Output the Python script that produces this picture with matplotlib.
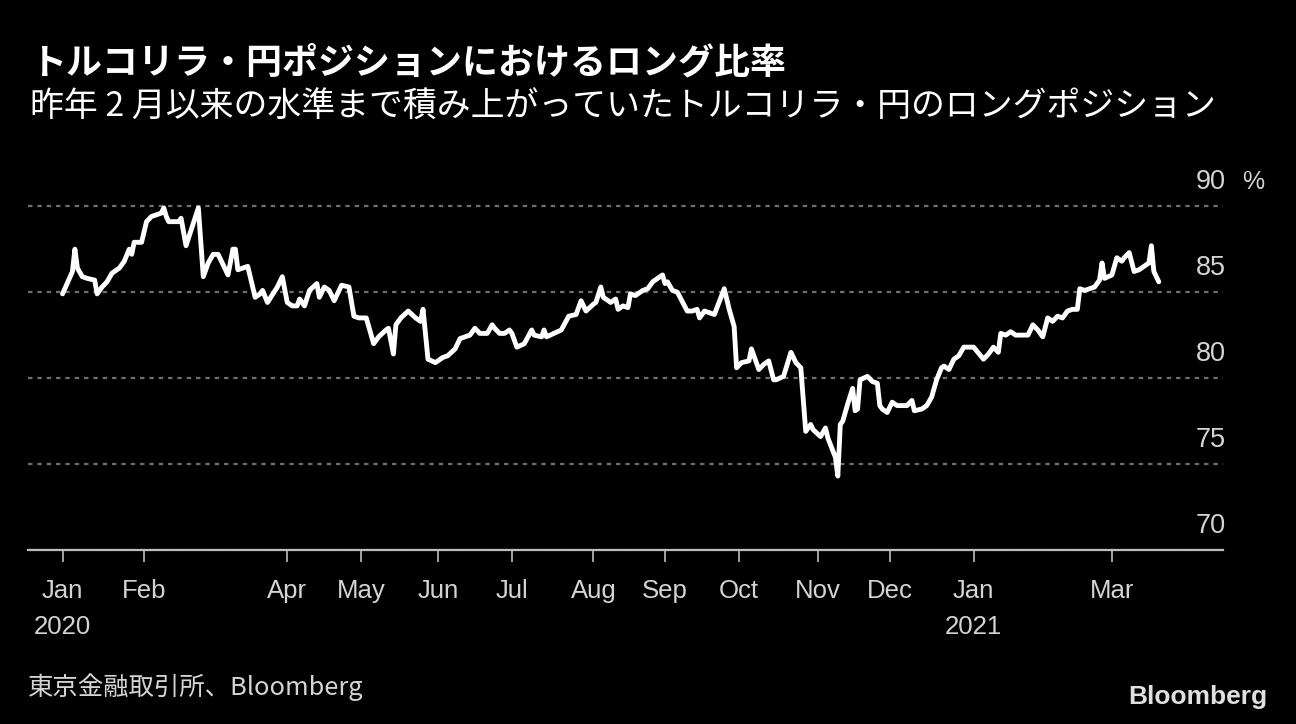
import matplotlib
matplotlib.use("Agg")
import matplotlib.pyplot as plt
import matplotlib.transforms as mtransforms
import pandas as pd

# long ratio of TRY/JPY positions, %
DATES = [
    "2020-01-01", "2020-01-05", "2020-01-06", "2020-01-07", "2020-01-09", "2020-01-11",
    "2020-01-14", "2020-01-15", "2020-01-17", "2020-01-19", "2020-01-21", "2020-01-24",
    "2020-01-26", "2020-01-28", "2020-01-29", "2020-01-30", "2020-02-02", "2020-02-04",
    "2020-02-06", "2020-02-08", "2020-02-10", "2020-02-11", "2020-02-12", "2020-02-13",
    "2020-02-17", "2020-02-18", "2020-02-20", "2020-02-25", "2020-02-27", "2020-02-29",
    "2020-03-02", "2020-03-04", "2020-03-08", "2020-03-10", "2020-03-11", "2020-03-12",
    "2020-03-16", "2020-03-19", "2020-03-21", "2020-03-22", "2020-03-24", "2020-03-28",
    "2020-03-30", "2020-04-01", "2020-04-03", "2020-04-05", "2020-04-06", "2020-04-08",
    "2020-04-10", "2020-04-13", "2020-04-14", "2020-04-16", "2020-04-18", "2020-04-20",
    "2020-04-23", "2020-04-26", "2020-04-28", "2020-04-30", "2020-05-03", "2020-05-06",
    "2020-05-08", "2020-05-11", "2020-05-12", "2020-05-14", "2020-05-15", "2020-05-17",
    "2020-05-20", "2020-05-23", "2020-05-25", "2020-05-26", "2020-05-28", "2020-05-31",
    "2020-06-03", "2020-06-05", "2020-06-08", "2020-06-10", "2020-06-12", "2020-06-14",
    "2020-06-16", "2020-06-18", "2020-06-21", "2020-06-23", "2020-06-24", "2020-06-26",
    "2020-06-28", "2020-06-30", "2020-07-01", "2020-07-03", "2020-07-06", "2020-07-09",
    "2020-07-10", "2020-07-13", "2020-07-14", "2020-07-15", "2020-07-18", "2020-07-21",
    "2020-07-24", "2020-07-27", "2020-07-29", "2020-07-31", "2020-08-03", "2020-08-04",
    "2020-08-06", "2020-08-07", "2020-08-10", "2020-08-12", "2020-08-13", "2020-08-15",
    "2020-08-17", "2020-08-18", "2020-08-20", "2020-08-23", "2020-08-25", "2020-08-27",
    "2020-08-29", "2020-08-31", "2020-09-01", "2020-09-02", "2020-09-04", "2020-09-06",
    "2020-09-10", "2020-09-12", "2020-09-14", "2020-09-15", "2020-09-17", "2020-09-21",
    "2020-09-25", "2020-09-27", "2020-09-29", "2020-09-30", "2020-10-02", "2020-10-05",
    "2020-10-06", "2020-10-09", "2020-10-11", "2020-10-13", "2020-10-15", "2020-10-16",
    "2020-10-19", "2020-10-22", "2020-10-24", "2020-10-26", "2020-10-28", "2020-10-30",
    "2020-10-31", "2020-11-03", "2020-11-05", "2020-11-06", "2020-11-09", "2020-11-10",
    "2020-11-11", "2020-11-12", "2020-11-14", "2020-11-16", "2020-11-17", "2020-11-18",
    "2020-11-19", "2020-11-22", "2020-11-24", "2020-11-26", "2020-11-27", "2020-11-28",
    "2020-11-30", "2020-12-02", "2020-12-04", "2020-12-06", "2020-12-08", "2020-12-10",
    "2020-12-11", "2020-12-14", "2020-12-16", "2020-12-18", "2020-12-20", "2020-12-22",
    "2020-12-23", "2020-12-25", "2020-12-27", "2020-12-29", "2020-12-31", "2021-01-04",
    "2021-01-08", "2021-01-10", "2021-01-12", "2021-01-14", "2021-01-15", "2021-01-17",
    "2021-01-19", "2021-01-21", "2021-01-26", "2021-01-28", "2021-01-30", "2021-02-01",
    "2021-02-03", "2021-02-05", "2021-02-07", "2021-02-09", "2021-02-11", "2021-02-13",
    "2021-02-15", "2021-02-16", "2021-02-18", "2021-02-22", "2021-02-24", "2021-02-25",
    "2021-02-26", "2021-03-01", "2021-03-03", "2021-03-05", "2021-03-06", "2021-03-08",
    "2021-03-10", "2021-03-12", "2021-03-16", "2021-03-17", "2021-03-18", "2021-03-20",
]
LONG_RATIO = [
    84.9, 86.2, 87.5, 86.4, 85.9, 85.8,
    85.7, 84.9, 85.3, 85.6, 86.1, 86.4,
    86.8, 87.5, 87.2, 87.9, 87.9, 89.1,
    89.4, 89.5, 89.6, 89.9, 89.4, 89.1,
    89.1, 89.3, 87.7, 89.9, 85.9, 86.7,
    87.2, 87.2, 86.0, 87.5, 87.5, 86.3,
    86.5, 84.7, 84.9, 85.1, 84.4, 85.3,
    85.9, 84.4, 84.2, 84.2, 84.6, 84.2,
    85.1, 85.5, 84.7, 85.3, 85.1, 84.5,
    85.4, 85.3, 83.6, 83.5, 83.5, 82.0,
    82.4, 82.8, 82.9, 81.4, 83.1, 83.5,
    83.9, 83.5, 83.3, 84.0, 81.1, 80.9,
    81.2, 81.3, 81.7, 82.3, 82.4, 82.5,
    82.9, 82.6, 82.6, 83.1, 82.9, 82.6,
    82.6, 82.8, 82.6, 81.8, 82.0, 82.8,
    82.5, 82.4, 82.8, 82.4, 82.6, 82.8,
    83.6, 83.7, 84.5, 83.9, 84.3, 84.4,
    85.3, 84.7, 84.4, 84.6, 84.0, 84.2,
    84.1, 84.9, 84.8, 85.1, 85.2, 85.6,
    85.8, 86.0, 85.5, 85.6, 85.1, 85.0,
    83.9, 83.9, 84.0, 83.5, 83.9, 83.7,
    85.2, 84.0, 83.0, 80.6, 80.9, 81.0,
    81.7, 80.5, 80.8, 81.0, 79.9, 79.9,
    80.1, 81.5, 80.9, 80.6, 76.9, 77.3,
    77.0, 76.6, 77.1, 76.5, 75.4, 74.3,
    77.3, 77.5, 78.5, 79.4, 78.1, 78.2,
    79.9, 80.1, 79.8, 79.7, 78.4, 78.2,
    78.0, 78.6, 78.4, 78.4, 78.4, 78.7,
    78.1, 78.2, 78.4, 78.9, 79.9, 80.6,
    80.7, 80.5, 81.1, 81.3, 81.8, 81.8,
    81.1, 81.4, 81.8, 81.5, 82.6, 82.5,
    82.7, 82.5, 82.5, 83.1, 82.8, 82.4,
    83.5, 83.3, 83.6, 83.5, 83.9, 84.0,
    84.0, 85.2, 85.1, 85.3, 85.7, 86.7,
    85.8, 86.0, 87.0, 86.8, 87.0, 87.3,
    86.2, 86.3, 86.7, 87.7, 86.2, 85.6,
]

TICK_DATES = ["2020-01-01", "2020-02-03", "2020-04-01", "2020-05-01", "2020-06-01",
              "2020-07-01", "2020-08-03", "2020-09-01", "2020-10-01", "2020-11-02",
              "2020-12-01", "2021-01-04", "2021-03-01"]
TICK_LABELS = ["Jan\n2020", "Feb", "Apr", "May", "Jun", "Jul", "Aug", "Sep",
               "Oct", "Nov", "Dec", "Jan\n2021", "Mar"]
Y_TICKS = [70, 75, 80, 85, 90]

TITLE = "トルコリラ・円ポジションにおけるロング比率"
SUBTITLE = "昨年 2 月以来の水準まで積み上がっていたトルコリラ・円のロングポジション"
SOURCE = "東京金融取引所、Bloomberg"

JP = ["Noto Sans CJK JP", "DejaVu Sans"]
LAT = ["Liberation Sans", "DejaVu Sans"]
TXT = "#d4d4d4"

dates = pd.to_datetime(DATES)

fig = plt.figure(figsize=(12.96, 7.24), dpi=100, facecolor="black")
ax = fig.add_axes([28 / 1296, 174 / 724, 1195 / 1296, 361 / 724])
ax.set_facecolor("black")

ax.plot(dates, LONG_RATIO, color="white", lw=3.5, solid_joinstyle="round",
        solid_capstyle="round", zorder=3)

ax.set_xlim(pd.Timestamp("2019-12-18"), pd.Timestamp("2021-04-15"))
ax.set_ylim(70, 91)

# dotted horizontal grid, solid baseline at 70
ax.set_yticks(Y_TICKS)
ax.yaxis.grid(True, color="#6e6e6e", lw=1.6, dashes=(2, 2.2))
ax.tick_params(axis="y", left=False, labelleft=False)
for side in ["left", "right", "top"]:
    ax.spines[side].set_visible(False)
ax.spines["bottom"].set_color("#bdbdbd")
ax.spines["bottom"].set_linewidth(1.6)
ax.spines["bottom"].set_zorder(4)

ax.set_xticks(pd.to_datetime(TICK_DATES))
ax.set_xticklabels(TICK_LABELS, fontfamily=LAT, fontsize=18.5, color=TXT,
                   linespacing=1.6)
ax.tick_params(axis="x", direction="out", length=8.5, width=1.2, color="#bdbdbd",
               pad=12.5)

# value labels sit above their gridline at the right edge
trans = mtransforms.blended_transform_factory(ax.transAxes, ax.transData)
trans = mtransforms.offset_copy(trans, fig=fig, y=12.3, units="points")
for v in Y_TICKS:
    ax.text(1.002, v, str(v), transform=trans, ha="right", va="baseline",
            fontfamily=LAT, fontsize=19.5, color=TXT)
ax.text(1.016, 90, "%", transform=trans, ha="left", va="baseline",
        fontfamily=LAT, fontsize=18, color=TXT)

fig.text(30 / 1296, 1 - 63 / 724, TITLE, fontfamily=JP, fontsize=25.9,
         fontweight="bold", color="white", va="center", ha="left")
fig.text(30 / 1296, 1 - 107 / 724, SUBTITLE, fontfamily=JP, fontsize=24.4,
         color="white", va="center", ha="left")
fig.text(28 / 1296, 1 - 687 / 724, SOURCE, fontfamily=JP, fontsize=18.3,
         color=TXT, va="center", ha="left")
fig.text(1267 / 1296, 1 - 697 / 724, "Bloomberg", fontfamily=LAT, fontsize=19,
         fontweight="bold", color="#e0e0e0", va="center", ha="right")

fig.savefig("out.png", dpi=100, facecolor="black")
